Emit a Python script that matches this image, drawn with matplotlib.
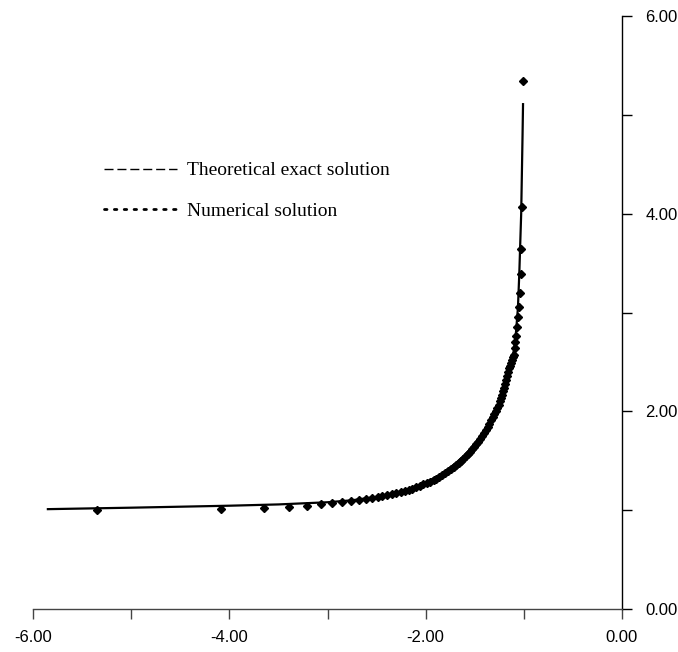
import matplotlib
matplotlib.use("Agg")
import matplotlib.pyplot as plt
from matplotlib.lines import Line2D

# exact solution
exact_x = [-5.86, -5.0, -4.5, -4.0, -3.5, -3.0, -2.75, -2.5, -2.25, -2.0,
           -1.85, -1.7, -1.6, -1.5, -1.4, -1.3, -1.25, -1.2, -1.15, -1.1,
           -1.08, -1.06, -1.046, -1.035, -1.027, -1.02, -1.013, -1.008]
exact_y = [1.01, 1.025, 1.035, 1.045, 1.058, 1.08, 1.10, 1.135, 1.185, 1.28,
           1.36, 1.47, 1.56, 1.665, 1.805, 1.98, 2.085, 2.25, 2.45, 2.62,
           2.80, 3.05, 3.40, 3.75, 4.00, 4.40, 4.80, 5.12]

# numerical solution points
num_x = [-5.35, -4.08, -3.65, -3.39, -3.21, -3.07, -2.95, -2.85, -2.76, -2.68, -2.61,
         -2.55, -2.49, -2.44, -2.39, -2.34, -2.30, -2.25, -2.21, -2.17, -2.14, -2.10, -2.06,
         -2.025, -1.99, -1.955, -1.92, -1.89, -1.86, -1.83, -1.80, -1.77, -1.74, -1.715,
         -1.69, -1.665, -1.64, -1.615, -1.59, -1.57,
         -1.55, -1.53, -1.51, -1.49, -1.47, -1.45, -1.43, -1.41, -1.39, -1.37, -1.35,
         -1.33, -1.315, -1.30, -1.285, -1.27, -1.255, -1.24,
         -1.23, -1.22, -1.21, -1.20, -1.19, -1.18, -1.17, -1.16, -1.15, -1.14, -1.13,
         -1.12, -1.11,
         -1.103, -1.093, -1.086, -1.079, -1.069, -1.059, -1.052, -1.042, -1.032, -1.025,
         -1.015, -1.005]
num_y = [1.00, 1.01, 1.02, 1.03, 1.04, 1.06, 1.07, 1.08, 1.09, 1.10, 1.11,
         1.12, 1.13, 1.14, 1.15, 1.16, 1.17, 1.18, 1.19, 1.20, 1.21, 1.23, 1.245,
         1.26, 1.275, 1.29, 1.305, 1.32, 1.34, 1.36, 1.38, 1.40, 1.42, 1.44,
         1.46, 1.48, 1.50, 1.52, 1.545, 1.565,
         1.59, 1.615, 1.64, 1.665, 1.69, 1.72, 1.75, 1.78, 1.81, 1.84, 1.875,
         1.91, 1.94, 1.97, 2.00, 2.03, 2.065, 2.10,
         2.135, 2.17, 2.205, 2.24, 2.28, 2.32, 2.36, 2.40, 2.44, 2.46, 2.49,
         2.52, 2.545,
         2.57, 2.64, 2.70, 2.76, 2.85, 2.95, 3.06, 3.20, 3.39, 3.64,
         4.07, 5.34]

x_ticks = [-6, -5, -4, -3, -2, -1, 0]
x_labels = ['-6.00', '', '-4.00', '', '-2.00', '', '0.00']
y_ticks = [0, 1, 2, 3, 4, 5, 6]
y_labels = ['0.00', '', '2.00', '', '4.00', '', '6.00']

fig = plt.figure(figsize=(6.78, 6.52), dpi=100)
ax = fig.add_axes([0.0487, 0.066, 0.8687, 0.9093])

ax.plot(exact_x, exact_y, color='black', lw=1.6, solid_capstyle='butt', zorder=2)
ax.plot(num_x, num_y, ls='none', marker='D', ms=3.8, color='black', zorder=3)

ax.set_xlim(-6, 0)
ax.set_ylim(0, 6)

for side in ('top', 'left'):
    ax.spines[side].set_visible(False)
ax.spines['bottom'].set_color('#444444')
ax.spines['right'].set_color('black')
ax.spines['bottom'].set_linewidth(1.0)
ax.spines['right'].set_linewidth(1.0)

ax.set_xticks(x_ticks)
ax.set_xticklabels(x_labels)
ax.set_yticks(y_ticks)
ax.set_yticklabels(y_labels)
ax.yaxis.tick_right()
ax.tick_params(axis='x', direction='out', length=7, width=1, color='#444444',
               pad=8, labelsize=12)
ax.tick_params(axis='y', direction='out', length=7, width=1, color='black',
               pad=10, labelsize=12)
for lab in ax.get_xticklabels() + ax.get_yticklabels():
    lab.set_fontfamily('Liberation Sans')

handles = [
    Line2D([], [], color='black', lw=1.0, ls=(0, (6.5, 2.8))),
    Line2D([], [], color='black', lw=2.0, ls=(0, (0.9, 2.65)),
           dash_capstyle='round'),
]
leg = ax.legend(handles, ['Theoretical exact solution', 'Numerical solution'],
                loc='upper left', bbox_to_anchor=(0.153, 0.752),
                bbox_transform=fig.transFigure, frameon=False,
                prop={'family': 'Liberation Serif', 'size': 14},
                handlelength=3.75, handletextpad=0.55, labelspacing=1.2,
                borderaxespad=0, borderpad=0)

fig.savefig('out.png', dpi=100, facecolor='white')
